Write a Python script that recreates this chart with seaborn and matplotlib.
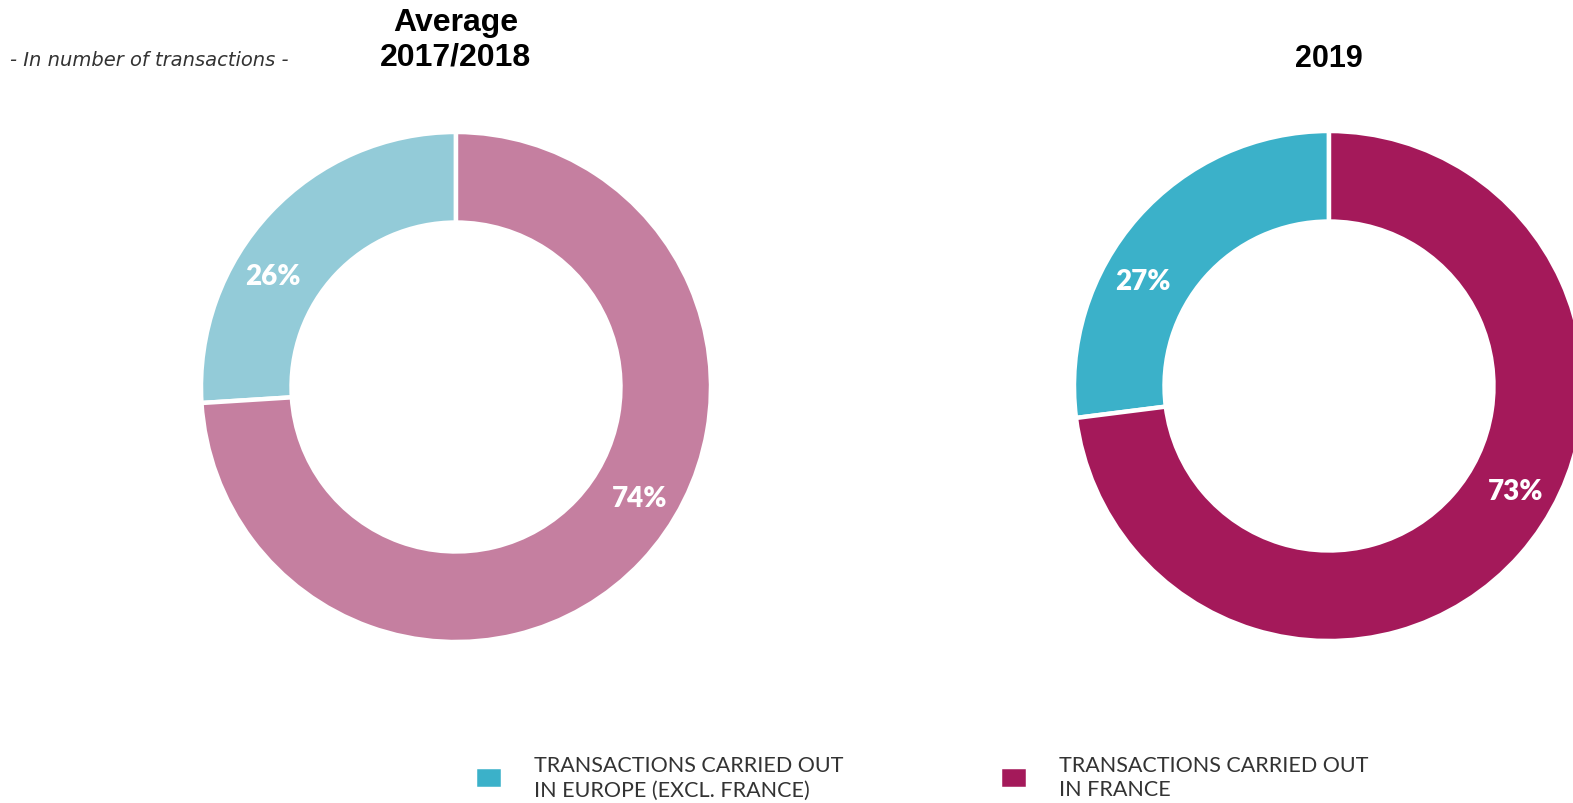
import numpy as np
import matplotlib
matplotlib.use("Agg")
import matplotlib.pyplot as plt
import seaborn as sns

# Share of transactions by location
categories = ["TRANSACTIONS CARRIED OUT\nIN EUROPE (EXCL. FRANCE)",
              "TRANSACTIONS CARRIED OUT\nIN FRANCE"]
avg_2017_2018 = [26, 74]
year_2019 = [27, 73]
panel_titles = ["Average\n2017/2018", "2019"]
subtitle = "- In number of transactions -"

sns.set_theme(style="white")
plt.rcParams["font.family"] = ["Lato", "DejaVu Sans"]

pale_colors = ["#93CBD8", "#C57FA0"]
strong_colors = sns.color_palette(["#3BB1C9", "#A4195A"])

W, H = 1573, 804
fig = plt.figure(figsize=(W / 100, H / 100), dpi=100)
fig.patch.set_facecolor("white")

R = 255          # outer radius in pixels
LIM = 1.02       # data limit around the unit pie
side = 2 * LIM * R


def donut(cx, cy, values, colors):
    ax = fig.add_axes([(cx - side / 2) / W, (H - cy - side / 2) / H, side / W, side / H])
    wedges, _ = ax.pie(values, colors=colors, startangle=90, counterclock=True,
                       radius=1.0,
                       wedgeprops=dict(width=0.355, edgecolor="white", linewidth=3.2))
    ax.set_xlim(-LIM, LIM)
    ax.set_ylim(-LIM, LIM)
    ax.set_aspect("auto")
    ax.axis("off")
    total = float(sum(values))
    start = 90.0
    for v in values:
        span = 360.0 * v / total
        ang = np.deg2rad(start + span / 2 + 12)
        ax.text(0.84 * np.cos(ang), 0.84 * np.sin(ang), f"{v}%", ha="center", va="center",
                color="white", fontsize=20, fontweight="heavy")
        start += span
    return ax, wedges


ax1, w1 = donut(456, 388, avg_2017_2018, pale_colors)
ax2, w2 = donut(1329, 387, year_2019, strong_colors)

# Panel titles
fig.text(456 / W, 1 - 40 / H, panel_titles[0], ha="center", va="center",
         fontsize=23, fontweight="bold", color="black", family=["Liberation Sans"],
         linespacing=1.2)
fig.text(1329 / W, 1 - 59 / H, panel_titles[1], ha="center", va="center",
         fontsize=22, fontweight="bold", color="black", family=["Liberation Sans"])

fig.text(10 / W, 1 - 61 / H, subtitle, ha="left", va="center", fontsize=14,
         style="italic", color="#333333", family=["DejaVu Sans"])

# Legend entries, one per category
for handle, label, x in zip(w2, categories, [475, 1000]):
    leg = fig.legend([handle], [label], loc="center left",
                     bbox_to_anchor=(x / W, 1 - 778 / H), frameon=False,
                     fontsize=15.5, labelcolor="#333333",
                     handlelength=1.3, handleheight=1.2, handletextpad=1.45,
                     borderpad=0, borderaxespad=0)
    for t in leg.get_texts():
        t.set_linespacing(1.3)

fig.savefig("out.png", dpi=100, facecolor="white")
